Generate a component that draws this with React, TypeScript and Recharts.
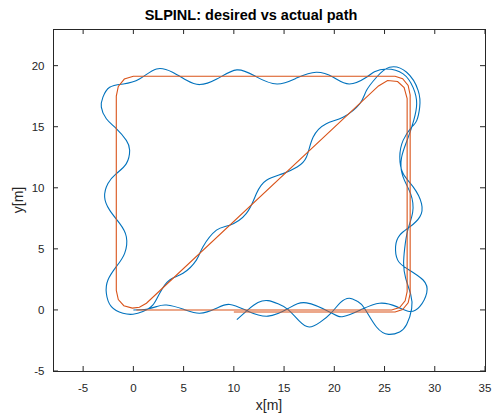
import { LineChart, Line, XAxis, YAxis } from "recharts";

document.body.style.margin = "0";

const xTicks = [-5, 0, 5, 10, 15, 20, 25, 30, 35];
const yTicks = [-5, 0, 5, 10, 15, 20];
const xDomain = [-8, 35];
const yDomain = [-5, 23];

const actualX = [
  10.3, 11.4, 12.4, 13.4, 14.4, 15.4, 16.5, 17.5, 18.6, 19.7, 20.6, 21.5, 22.3, 23.0, 24.2, 25.4, 26.5, 27.2, 27.7,
  27.6, 27.1, 26.9, 27.0, 27.3, 27.8, 27.6, 26.8, 26.7, 27.3, 27.9, 28.2, 27.85, 26.85, 25.2, 24.0, 23.2, 21.5,
  19.9, 18.2, 16.3, 14.3, 12.2, 10.3, 8.3, 6.6, 5.3, 3.9, 2.3, 0.6, -1.0, -2.36, -3.03, -3.19, -2.69, -1.7, -0.7,
  -0.37, -0.7, -1.7, -2.53, -2.86, -2.36, -1.37, -0.7, -0.87, -1.7, -2.53, -2.69, -2.19, -1.04, -0.04, 0.95, 1.95,
  2.62, 3.61, 4.94, 6.27, 6.93, 8.27, 9.59, 11.25, 12.25, 13.25, 14.9, 16.3, 17.23, 17.9, 19.2, 20.87, 22.54, 23.2,
  24.2, 25.5, 27.2, 28.35, 28.5, 28.2, 27.7, 26.85, 26.52, 26.85, 27.85, 28.68, 28.51, 27.52, 26.52, 26.1, 26.3,
  27.2, 28.84, 29.2, 28.5, 27.5, 26.2, 24.5, 22.6, 20.9, 19.7, 17.23, 15.4, 13.4, 11.4, 9.6, 8.27, 6.6, 5.0, 3.3,
  2.3, 1.3, 0.0,
];
const actualY = [
  -0.8, 0.0, 0.6, 0.76, 0.5, 0.03, -0.9, -1.4, -1.0, -0.24, 0.6, 0.96, 0.7, 0.14, -1.4, -2.0, -1.8, -1.2, 0.1,
  1.3, 2.6, 3.8, 5.0, 6.5, 8.0, 9.5, 11.0, 12.5, 14.0, 15.5, 16.9, 18.2, 19.33, 19.73, 19.5, 19.05, 18.5,
  19.05, 19.46, 19.0, 18.5, 19.1, 19.65, 18.9, 18.45, 18.8, 19.46, 19.73, 18.9, 18.5, 18.23, 17.42, 16.6, 15.65, 14.84, 13.88,
  13.07, 11.98, 11.16, 10.35, 9.25, 8.17, 7.08, 5.99, 4.63, 3.54, 2.45, 1.37, 0.27, -0.27, -0.35, -0.13, 0.41,
  1.37, 2.45, 3.0, 4.08, 5.17, 6.53, 6.94, 7.9, 9.53, 10.62, 11.16, 11.7, 12.52, 14.15, 15.24, 15.78, 16.88, 17.96,
  19.05, 19.87, 19.46, 17.96, 16.6, 15.5, 14.97, 13.88, 12.52, 11.16, 10.07, 8.71, 7.62, 6.8, 6.13, 5.2, 4.1,
  3.4, 2.45, 1.4, 0.27, -0.13, 0.27, 0.55, 0.0, -0.54, -0.24, 0.58, 0.11, -0.51, -0.1, 0.45, 0.14, -0.27, 0.05, 0.4,
  0.27, 0.06, 0.0,
];

// desired (reference) path
const desiredX = [
  10, 26.05, 26.8, 27.35, 27.55, 27.55, 27.35, 26.8, 26.05, 0.0, -0.9, -1.5, -1.7, -1.7, -1.5, -0.95, -0.1, 0.6,
  1.3, 24.4, 25.3, 26.3, 26.95, 27.25, 27.25, 27.05, 26.5, 25.7, 0.3,
];
const desiredY = [
  -0.17, -0.17, 0.03, 0.58, 1.33, 17.6, 18.38, 18.93, 19.13, 19.13, 18.9, 18.3, 17.5, 1.6, 0.85, 0.35, 0.15, 0.22,
  0.55, 18.34, 18.78, 18.7, 18.2, 17.3, 1.5, 0.75, 0.2, 0.0, 0.0,
];

const actual = actualX.map((x, i) => ({ x, y: actualY[i] }));
const desired = desiredX.map((x, i) => ({ x, y: desiredY[i] }));

const FONT = "'Liberation Sans', Arial, Helvetica, sans-serif";
const AXIS = "#262626";
const TICK = 5;

const W = 493;
const H = 416;
const M = { top: 29, right: 8, bottom: 19, left: 13 };
const X_AXIS_H = 26;
const Y_AXIS_W = 40;
const PLOT_W = W - M.left - M.right - Y_AXIS_W;
const PLOT_H = H - M.top - M.bottom - X_AXIS_H;
const X_GAP = 12.5;
const Y_GAP = 8.5;

// bottom labels + inward tick marks on bottom and top edges
function BottomTick(p: any) {
  const axisY = p.y - X_GAP;
  return (
    <g>
      <line x1={p.x} x2={p.x} y1={axisY} y2={axisY - TICK} stroke={AXIS} />
      <line x1={p.x} x2={p.x} y1={axisY - PLOT_H} y2={axisY - PLOT_H + TICK} stroke={AXIS} />
      <text x={p.x} y={p.y + 8.2} textAnchor="middle" fill={AXIS} fontSize={11.5}>
        {p.payload.value}
      </text>
    </g>
  );
}
// left labels + inward tick marks on left and right edges
function LeftTick(p: any) {
  const axisX = p.x + Y_GAP;
  return (
    <g>
      <line x1={axisX} x2={axisX + TICK} y1={p.y} y2={p.y} stroke={AXIS} />
      <line x1={axisX + PLOT_W} x2={axisX + PLOT_W - TICK} y1={p.y} y2={p.y} stroke={AXIS} />
      <text x={p.x} y={p.y + 4} textAnchor="end" fill={AXIS} fontSize={11.5}>
        {p.payload.value}
      </text>
    </g>
  );
}

export default function App() {
  return (
    <div style={{ position: "relative", width: W, height: H, background: "#fff", fontFamily: FONT }}>
      <div
        style={{
          position: "absolute",
          left: 251,
          top: 7.5,
          transform: "translateX(-50%)",
          fontSize: 14.5,
          lineHeight: "14.5px",
          fontWeight: "bold",
          whiteSpace: "nowrap",
          color: "#000",
        }}
      >
        SLPINL: desired vs actual path
      </div>
      {/* axes box */}
      <div
        style={{
          position: "absolute",
          left: M.left + Y_AXIS_W - 0.5,
          top: M.top - 0.5,
          width: PLOT_W + 1,
          height: PLOT_H + 1,
          border: `1px solid ${AXIS}`,
          boxSizing: "border-box",
          pointerEvents: "none",
        }}
      />
      <LineChart width={W} height={H} margin={M} style={{ fontFamily: FONT }}>
        <XAxis
          dataKey="x"
          type="number"
          domain={xDomain}
          ticks={xTicks}
          interval={0}
          allowDataOverflow
          height={X_AXIS_H}
          axisLine={false}
          tickLine={false}
          tickSize={0}
          tickMargin={X_GAP}
          tick={<BottomTick />}
          label={{ value: "x[m]", position: "bottom", offset: 3, fill: AXIS, fontSize: 14 }}
        />
        <YAxis
          type="number"
          domain={yDomain}
          ticks={yTicks}
          interval={0}
          allowDataOverflow
          width={Y_AXIS_W}
          axisLine={false}
          tickLine={false}
          tickSize={0}
          tickMargin={Y_GAP}
          tick={<LeftTick />}
          label={{ value: "y[m]", angle: -90, position: "insideLeft", offset: 5, fill: AXIS, fontSize: 14, style: { textAnchor: "middle" } }}
        />
        <Line data={actual} dataKey="y" type="natural" stroke="#0072BD" strokeWidth={1.1} dot={false} isAnimationActive={false} />
        <Line data={desired} dataKey="y" type="linear" stroke="#D95319" strokeWidth={1.1} dot={false} isAnimationActive={false} />
      </LineChart>
    </div>
  );
}
